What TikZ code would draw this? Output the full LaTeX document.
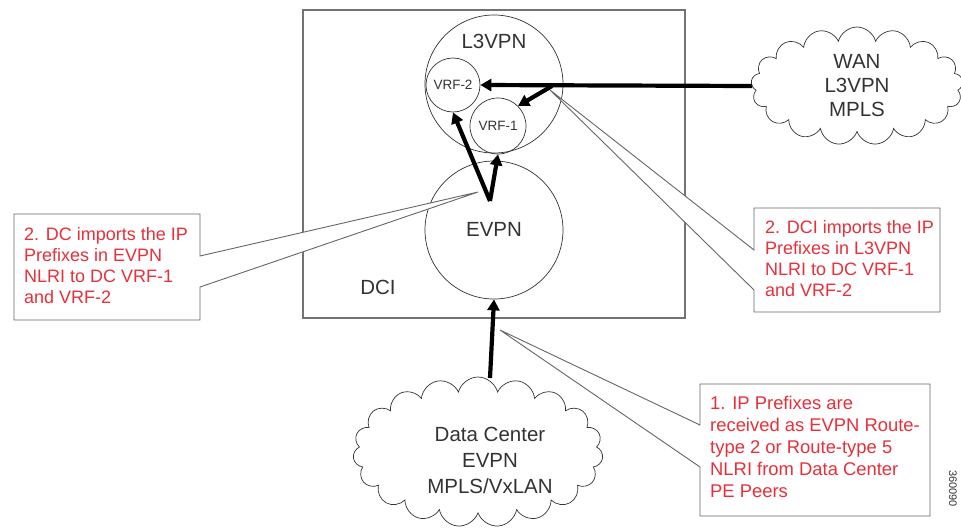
\documentclass[tikz,border=0pt]{standalone}
\usepackage{fontspec}
\setmainfont{Liberation Sans}
\usetikzlibrary{arrows.meta,shapes.symbols}
\definecolor{txt}{HTML}{333333}
\definecolor{redtxt}{HTML}{E8303A}
\definecolor{frame}{HTML}{666666}
\begin{document}
\begin{tikzpicture}[x=1pt,y=-1pt,
  circ/.style={circle,draw=black!80,line width=0.7pt,inner sep=0pt},
  lbl/.style={text=txt,font=\fontsize{20.5}{24}\selectfont},
  small/.style={text=txt,font=\fontsize{13.5}{16}\selectfont},
  cloudtxt/.style={text=txt,align=center},
  cloudshape/.style={cloud,cloud puffs=17,cloud ignores aspect,draw=black!80,line width=0.7pt,inner sep=0pt},
  flow/.style={line width=4.2pt,-{Triangle[length=11pt,width=12pt]},shorten >=0pt},
  callout/.style={draw=frame,line width=0.9pt,fill=white,line join=miter},
  note/.style={anchor=north west,align=left,text=redtxt,inner sep=0pt,font=\fontsize{18}{21}\selectfont}
]
\useasboundingbox (0,0) rectangle (961,531);
% DCI box
\node[draw=black!55,line width=1.3pt,minimum width=382pt,minimum height=308pt,inner sep=0pt] (dci) at (494,164) {};
\node[lbl] (dcilbl) at (378,287) {DCI};
% circles
\node[circ,minimum size=138pt] (l3) at (494,84) {};
\node[lbl] (l3lbl) at (494,41) {L3VPN};
\node[circ,minimum size=138pt,fill=white] (evpn) at (494,230) {};
\node[lbl] (evpnlbl) at (494,229) {EVPN};
\node[circ,minimum size=54pt] (vrf2) at (453,85) {};
\node[small] at (453,85) {VRF-2};
\node[circ,minimum size=56pt] (vrf1) at (498,126) {};
\node[small] at (498,126) {VRF-1};
% clouds
\node[cloudshape,minimum width=212pt,minimum height=118pt] (wan) at (857,86) {};
\node[cloudtxt,font=\fontsize{20.5}{24}\selectfont] (wantxt) at (857,86) {WAN\\L3VPN\\MPLS};
\node[cloudshape,cloud puffs=19,minimum width=250pt,minimum height=150pt] (dc) at (478,452) {};
\node[cloudtxt,font=\fontsize{20.5}{26}\selectfont] (dctxt) at (490,460) {Data Center\\EVPN\\MPLS/VxLAN};
% arrows
\coordinate (wstart) at (752,86);
\coordinate (branch) at (552,86);
\coordinate (ebase) at (490,201);
\coordinate (dcstart) at (490,378);
\draw[flow] (wstart) -- (vrf2.east);
\draw[flow] (branch) -- (vrf1.north east);
\draw[flow] (ebase) -- (vrf2.south);
\draw[flow] (ebase) -- (vrf1.south);
\draw[flow] (dcstart) -- (evpn.south);
% callouts
\coordinate (tipL) at (478,192);
\coordinate (tipR) at (550,90);
\coordinate (tipB) at (500,330);
\draw[callout] (14,214) -- (200,214) -- (200,256) -- (tipL) -- (200,287) -- (200,320) -- (14,320) -- cycle;
\node[note] (nl) at (24,227) {2. DC imports the IP\\Prefixes in EVPN\\NLRI to DC VRF-1\\and VRF-2};
\draw[callout] (754,208) -- (940,208) -- (940,312) -- (754,312) -- (754,290) -- (tipR) -- (754,250) -- cycle;
\node[note] (nr) at (765,220) {2. DCI imports the IP\\Prefixes in L3VPN\\NLRI to DC VRF-1\\and VRF-2};
\draw[callout] (700,384) -- (930,384) -- (930,516) -- (700,516) -- (700,467) -- (tipB) -- (700,425) -- cycle;
\node[note,font=\fontsize{18.4}{22}\selectfont] (nb) at (710,396) {1. IP Prefixes are\\received as EVPN Route-\\type 2 or Route-type 5\\NLRI from Data Center\\PE Peers};
% figure number
\node[rotate=-90,anchor=west,text=txt,font=\fontsize{11}{11}\selectfont,inner sep=0pt] (fig) at (953,470) {360090};
\end{tikzpicture}
\end{document}
